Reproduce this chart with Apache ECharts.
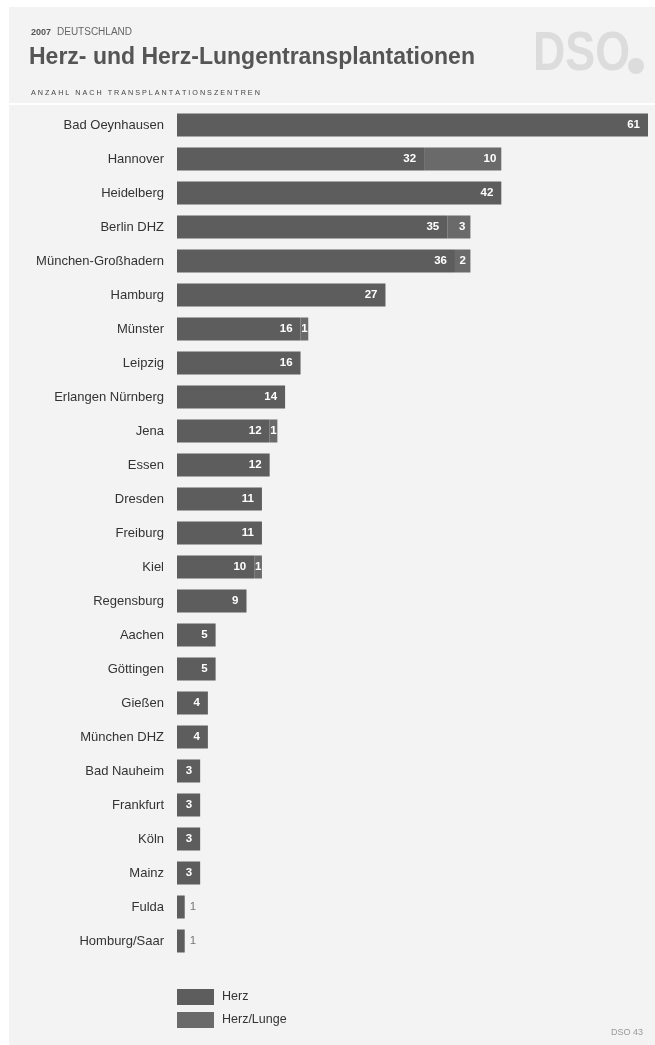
<!DOCTYPE html>
<html>
<head>
<meta charset="utf-8">
<script src="https://cdn.jsdelivr.net/npm/echarts@6/dist/echarts.min.js"></script>
<style>
html,body{margin:0;padding:0;background:#fff;}
#c{width:655px;height:1045px;}
</style>
</head>
<body>
<div id="c"></div>
<script>
const categories = ["Bad Oeynhausen","Hannover","Heidelberg","Berlin DHZ","München-Großhadern","Hamburg","Münster","Leipzig","Erlangen Nürnberg","Jena","Essen","Dresden","Freiburg","Kiel","Regensburg","Aachen","Göttingen","Gießen","München DHZ","Bad Nauheim","Frankfurt","Köln","Mainz","Fulda","Homburg/Saar"];
const herz = [61,32,42,35,36,27,16,16,14,12,12,11,11,10,9,5,5,4,4,3,3,3,3,1,1];
const herzLunge = [0,10,0,3,2,0,1,0,0,1,0,0,0,1,0,0,0,0,0,0,0,0,0,0,0];
const seriesNames = ["Herz","Herz/Lunge"];
const xMax = 61;

const chart = echarts.init(document.getElementById('c'));
const FONT = 'Liberation Sans';

function herzData(){
  return herz.map(v => {
    if (v <= 1) {
      return {value: v, label: {position: 'right', color: '#777', distance: 5, fontWeight: 'normal'}};
    }
    return {value: v};
  });
}
function hlData(){
  return herzLunge.map(v => {
    if (v === 0) return {value: null, label: {show: false}};
    return {value: v, label: {position: v < 3 ? 'inside' : 'insideRight'}};
  });
}

chart.setOption({
  backgroundColor: '#ffffff',
  animation: false,
  graphic: [
    {type:'rect', shape:{x:9,y:7,width:660,height:1045}, style:{fill:'#f3f3f3'}, z:-10},
    {type:'rect', shape:{x:9,y:103,width:660,height:2}, style:{fill:'#ffffff'}, z:-9},
    {type:'text', left:31, top:28, style:{text:'2007', font:'bold 9px "Liberation Sans"', fill:'#555'}},
    {type:'text', left:57, top:27, style:{text:'DEUTSCHLAND', font:'10px "Liberation Sans"', fill:'#666'}},
    {type:'text', left:29, top:46, style:{text:'Herz- und Herz-Lungentransplantationen', font:'bold 23px "Liberation Sans"', fill:'#555'}},
    {type:'text', left:31, top:90, style:{text:'A N Z A H L   N A C H   T R A N S P L A N T A T I O N S Z E N T R E N', font:'7.2px "Liberation Sans"', fill:'#444'}},
    {type:'text', x:533, y:27, scaleX:0.8, style:{text:'DSO', font:'bold 56px "Liberation Sans"', fill:'#dcdcdc'}},
    {type:'circle', shape:{cx:636, cy:66, r:8}, style:{fill:'#dcdcdc'}},
    {type:'text', right:12, top:1028, style:{text:'DSO 43', font:'9px "Liberation Sans"', fill:'#999'}}
  ],
  grid: {left:177, right:7, top:108, height:850, containLabel:false},
  xAxis: {type:'value', min:0, max:xMax, show:false},
  yAxis: {
    type:'category', data:categories, inverse:true,
    axisLine:{show:false}, axisTick:{show:false},
    axisLabel:{color:'#333', fontFamily:FONT, fontSize:13, margin:13}
  },
  legend: {
    orient:'vertical', left:177, top:989, padding:0, itemWidth:37, itemHeight:16, itemGap:7,
    icon:'rect', textStyle:{color:'#333', fontFamily:FONT, fontSize:12.5, padding:[0,0,0,3]},
    data: seriesNames
  },
  series: [
    {
      name: seriesNames[0], type:'bar', stack:'t', barWidth:23,
      data: herzData(),
      itemStyle:{color:'#5d5d5d'},
      label:{show:true, position:'insideRight', color:'#fff', fontFamily:FONT, fontWeight:'bold', fontSize:11.5, distance:8}
    },
    {
      name: seriesNames[1], type:'bar', stack:'t', barWidth:23,
      data: hlData(),
      itemStyle:{color:'#6a6a6a'},
      label:{show:true, position:'insideRight', color:'#fff', fontFamily:FONT, fontWeight:'bold', fontSize:11.5, distance:5}
    }
  ]
});
</script>
</body>
</html>
